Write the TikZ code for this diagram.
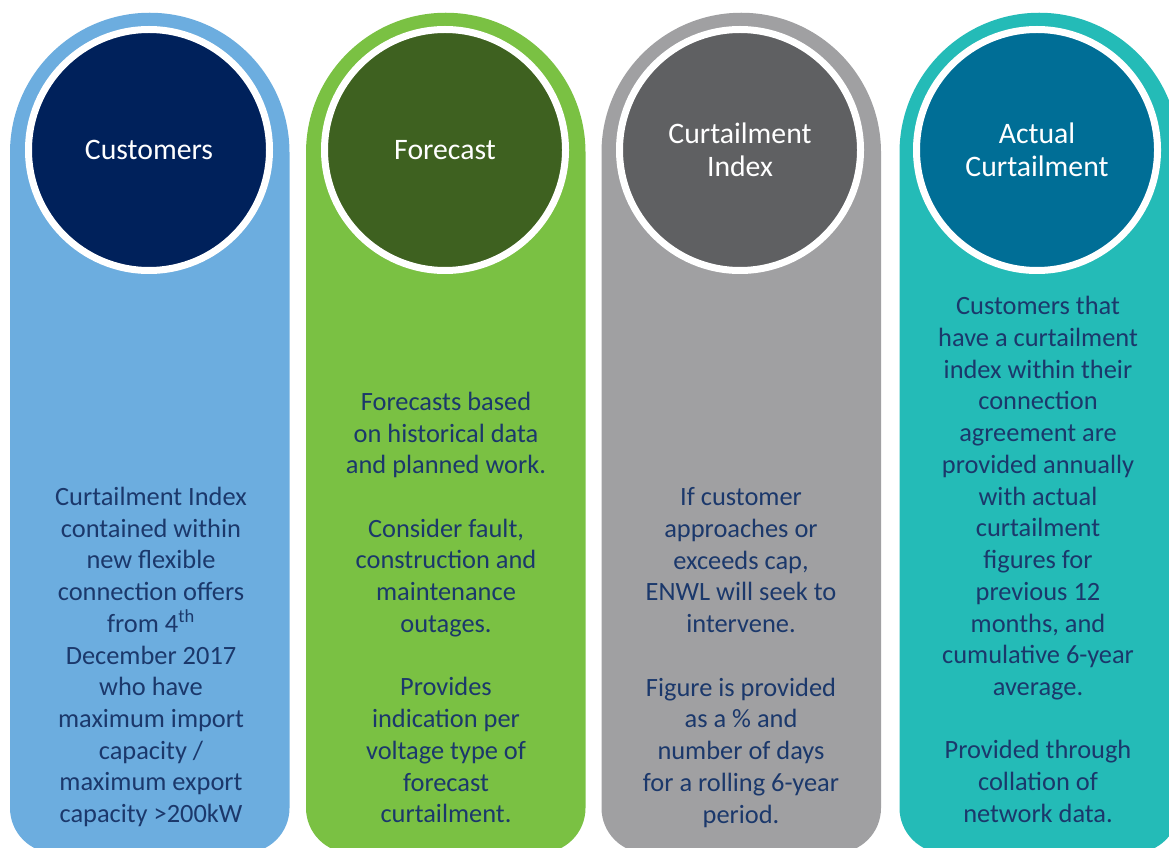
\documentclass[tikz,border=0pt]{standalone}
\usepackage{fontspec}
\setmainfont{Carlito}
\definecolor{custpill}{RGB}{108,173,223}
\definecolor{custhub}{RGB}{0,33,91}
\definecolor{forepill}{RGB}{122,193,67}
\definecolor{forehub}{RGB}{62,97,32}
\definecolor{cidxpill}{RGB}{160,160,162}
\definecolor{cidxhub}{RGB}{95,96,98}
\definecolor{actlpill}{RGB}{36,187,183}
\definecolor{actlhub}{RGB}{0,110,150}
\definecolor{bodyblue}{RGB}{27,56,107}
\begin{document}
\begin{tikzpicture}[x=0.75pt,y=0.75pt,yscale=-1,xscale=1,
  hub/.style={circle,draw=white,line width=5.25pt,minimum size=180.75pt,inner sep=0pt,text=white,align=center,font=\fontsize{22.3}{24.75}\selectfont},
  blurb/.style={inner sep=0pt,align=center,text=bodyblue,font=\fontsize{19.8}{23.8}\selectfont}]
\useasboundingbox (0,0) rectangle (1169,848);
\clip (0,0) rectangle (1169,848);

%Shape: Pill [Customers]
\fill [custpill] (10,152.5) arc [start angle=180, end angle=360, radius=139.75] -- (289.5,808) arc [start angle=0, end angle=90, radius=45] -- (55,853) arc [start angle=90, end angle=180, radius=45] -- cycle;
%Shape: Pill [Forecast]
\fill [forepill] (306,152.5) arc [start angle=180, end angle=360, radius=139.75] -- (585.5,808) arc [start angle=0, end angle=90, radius=45] -- (351,853) arc [start angle=90, end angle=180, radius=45] -- cycle;
%Shape: Pill [Curtailment Index]
\fill [cidxpill] (601.5,152.5) arc [start angle=180, end angle=360, radius=139.75] -- (881,808) arc [start angle=0, end angle=90, radius=45] -- (646.5,853) arc [start angle=90, end angle=180, radius=45] -- cycle;
%Shape: Pill [Actual Curtailment]
\fill [actlpill] (899.5,152.5) arc [start angle=180, end angle=360, radius=139.75] -- (1179,808) arc [start angle=0, end angle=90, radius=45] -- (944.5,853) arc [start angle=90, end angle=180, radius=45] -- cycle;

% Circle Nodes
\node (cust) [hub, fill=custhub] at (149,150) {Customers};
\node (fore) [hub, fill=forehub] at (445,150) {Forecast};
\node (cidx) [hub, fill=cidxhub] at (740,150) {Curtailment\\Index};
\node (actl) [hub, fill=actlhub] at (1037,150) {Actual\\Curtailment};

% Text Node
\node (custtxt) [blurb] at (151,657) {Curtailment Index\\contained within\\new flexible\\connection offers\\from 4\textsuperscript{th}\\December 2017\\who have\\maximum import\\capacity /\\maximum export\\capacity >200kW};
% Text Node
\node (foretxt) [blurb] at (446,607.5) {Forecasts based\\on historical data\\and planned work.\\[23.8pt]Consider fault,\\construction and\\maintenance\\outages.\\[23.8pt]Provides\\indication per\\voltage type of\\forecast\\curtailment.};
% Text Node
\node (cidxtxt) [blurb] at (741,657.5) {If customer\\approaches or\\exceeds cap,\\ENWL will seek to\\intervene.\\[23.8pt]Figure is provided\\as a \% and\\number of days\\for a rolling 6-year\\period.};
% Text Node
\node (actltxt) [blurb] at (1038,559.5) {Customers that\\have a curtailment\\index within their\\connection\\agreement are\\provided annually\\with actual\\curtailment\\figures for\\previous 12\\months, and\\cumulative 6-year\\average.\\[23.8pt]Provided through\\collation of\\network data.};

\end{tikzpicture}
\end{document}
